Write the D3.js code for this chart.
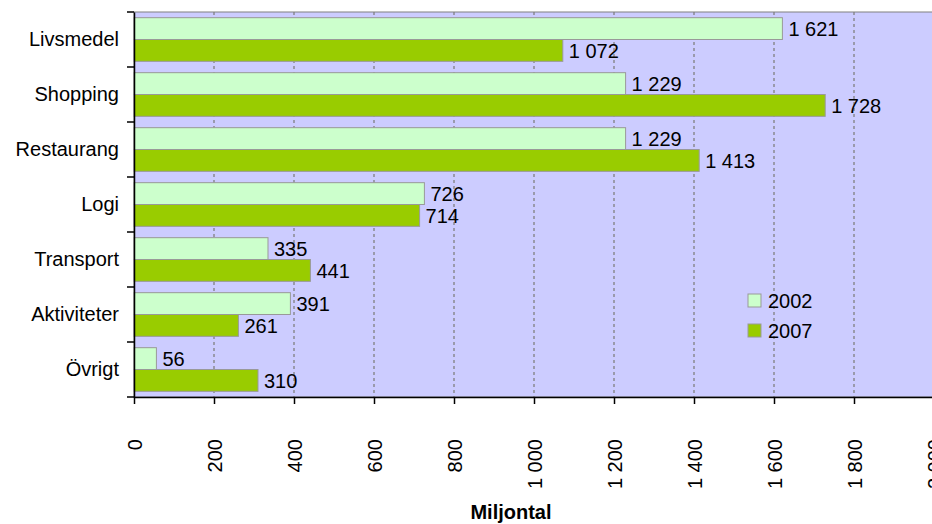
<!DOCTYPE html>
<html>
<head>
<meta charset="utf-8">
<script src="https://cdn.jsdelivr.net/npm/d3@7"></script>
<style>
  body { margin: 0; background: #fff; }
  svg { display: block; font-family: "Liberation Sans", Arial, sans-serif; }
</style>
</head>
<body>
<svg id="chart"></svg>
<script>
const width = 932;
const height = 524;

const categories = ['Livsmedel', 'Shopping', 'Restaurang', 'Logi', 'Transport', 'Aktiviteter', 'Övrigt'];
const years = ['2002', '2007'];
const values2002 = [1621, 1229, 1229, 726, 335, 391, 56];
const values2007 = [1072, 1728, 1413, 714, 441, 261, 310];
const xTicks = [0, 200, 400, 600, 800, 1000, 1200, 1400, 1600, 1800, 2000];
const colors = ['#ccffcc', '#99cc00'];

const plot = {left: 134, right: 934, top: 12, bottom: 397};
const fmt = d3.formatLocale({decimal: ',', thousands: '\u00a0', grouping: [3], currency: ['', '']}).format(',d');

function main(){
  const svg = d3.select('svg#chart')
  .attr('width', width)
  .attr('height', height);

  const sx = d3.scaleLinear()
  .domain([0, 2000])
  .range([plot.left, plot.right]);

  const sy = d3.scaleBand()
  .domain(categories)
  .range([plot.top, plot.bottom]);

  const sSeries = d3.scaleBand()
  .domain(years)
  .range([0, sy.bandwidth()])
  .paddingOuter(0.26);

  // background of plot area
  svg.append('rect')
  .attr('x', plot.left)
  .attr('y', plot.top)
  .attr('width', plot.right - plot.left)
  .attr('height', plot.bottom - plot.top)
  .attr('fill', '#ccccff')
  .attr('stroke', '#808080');

  // dashed gridlines
  svg.selectAll('.grid')
  .data(xTicks.slice(1))
  .enter()
  .append('line')
  .attr('class', 'grid')
  .attr('x1', d=>sx(d)).attr('x2', d=>sx(d))
  .attr('y1', plot.top).attr('y2', plot.bottom)
  .attr('stroke', '#808080')
  .attr('stroke-width', 1.3)
  .attr('stroke-dasharray', '3,3');

  // bars
  const series = [values2002, values2007];
  series.forEach((vals, s)=>{
    svg.selectAll('.bar' + s)
    .data(vals)
    .enter()
    .append('rect')
    .attr('class', 'bar' + s)
    .attr('x', sx(0))
    .attr('y', (d,i)=>sy(categories[i]) + sSeries(years[s]))
    .attr('width', d=>sx(d) - sx(0))
    .attr('height', sSeries.bandwidth())
    .attr('fill', colors[s])
    .attr('stroke', '#999')
    .attr('stroke-width', 1);

    svg.selectAll('.lab' + s)
    .data(vals)
    .enter()
    .append('text')
    .attr('class', 'lab' + s)
    .attr('x', d=>sx(d) + 6)
    .attr('y', (d,i)=>sy(categories[i]) + sSeries(years[s]) + sSeries.bandwidth()/2)
    .attr('dy', '0.36em')
    .attr('font-size', 20)
    .attr('fill', '#000')
    .text(d=>fmt(d));
  });

  // y axis
  const ay = d3.axisLeft(sy).tickSize(0).tickPadding(15);
  const gy = svg.append('g')
  .attr('transform', `translate(${plot.left},0)`)
  .call(ay);
  gy.select('.domain').attr('stroke', '#000').attr('stroke-width', 1.5);
  gy.selectAll('text').attr('font-size', 20).attr('fill', '#000')
  .attr('font-family', '"Liberation Sans", Arial, sans-serif');
  // category separators
  svg.selectAll('.ytick')
  .data(d3.range(categories.length + 1))
  .enter()
  .append('line')
  .attr('class', 'ytick')
  .attr('x1', plot.left - 7).attr('x2', plot.left)
  .attr('y1', i=>plot.top + i*sy.step()).attr('y2', i=>plot.top + i*sy.step())
  .attr('stroke', '#000').attr('stroke-width', 1.5);

  // x axis
  const ax = d3.axisBottom(sx)
  .tickValues(xTicks)
  .tickSizeInner(7)
  .tickSizeOuter(0)
  .tickFormat(fmt);
  const gx = svg.append('g')
  .attr('transform', `translate(0,${plot.bottom})`)
  .call(ax);
  gx.select('.domain').attr('stroke', '#000').attr('stroke-width', 1.5);
  gx.selectAll('.tick line').attr('stroke', '#000').attr('stroke-width', 1.5);
  gx.selectAll('text')
  .attr('font-size', 20)
  .attr('fill', '#000')
  .attr('font-family', '"Liberation Sans", Arial, sans-serif')
  .attr('transform', 'rotate(-90)')
  .attr('text-anchor', 'end')
  .attr('x', -42)
  .attr('y', 0)
  .attr('dy', '0.36em');

  // x axis title
  svg.append('text')
  .attr('x', 511)
  .attr('y', 519)
  .attr('text-anchor', 'middle')
  .attr('font-size', 20)
  .attr('font-weight', 'bold')
  .text('Miljontal');

  // legend
  const legend = svg.selectAll('.legend')
  .data(years)
  .enter()
  .append('g')
  .attr('class', 'legend')
  .attr('transform', (d,i)=>`translate(748,${294 + i*30})`);
  legend.append('rect')
  .attr('width', 13).attr('height', 13)
  .attr('fill', (d,i)=>colors[i])
  .attr('stroke', '#999');
  legend.append('text')
  .attr('x', 20)
  .attr('y', 6.5)
  .attr('dy', '0.36em')
  .attr('font-size', 20)
  .text(d=>d);
}

document.addEventListener('DOMContentLoaded', main);
</script>
</body>
</html>
